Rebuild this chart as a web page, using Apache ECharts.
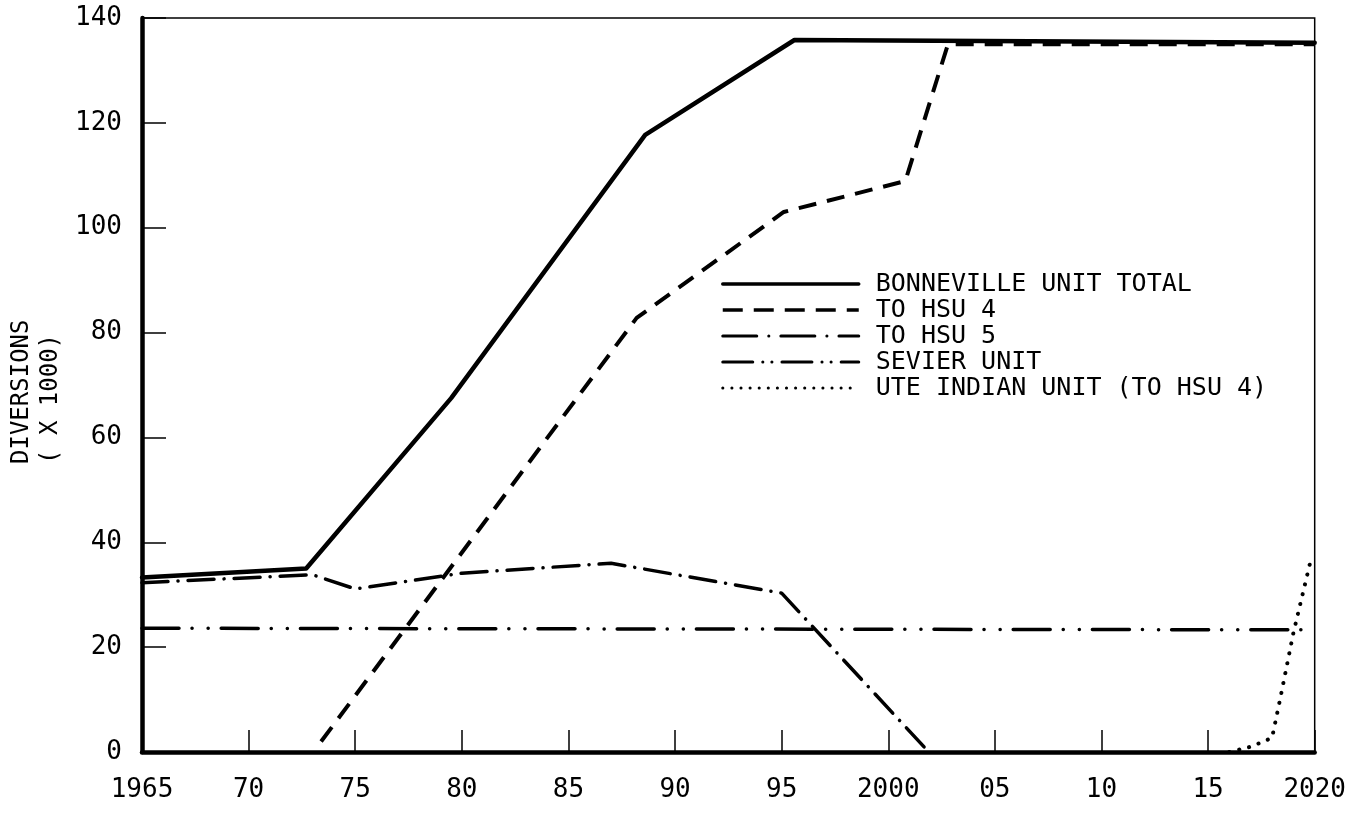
<!DOCTYPE html>
<html>
<head>
<meta charset="utf-8">
<script src="https://cdn.jsdelivr.net/npm/echarts@6/dist/echarts.min.js"></script>
<style>
  html, body { margin: 0; padding: 0; background: #fff; }
  #chart { width: 1349px; height: 818px; }
</style>
</head>
<body>
<div id="chart"></div>
<script>
// tick labels
var xTickValues = [1965, 1970, 1975, 1980, 1985, 1990, 1995, 2000, 2005, 2010, 2015, 2020];
var xTickLabels = ['1965', '70', '75', '80', '85', '90', '95', '2000', '05', '10', '15', '2020'];

// series (year, diversions x 1000)
var bonnevilleYears  = [1965, 1972.7, 1979.5, 1988.6, 1995.6, 2020];
var bonnevilleValues = [33.3, 35.0, 67.5, 117.7, 135.8, 135.3];

var hsu4Years  = [1973.4, 1988.2, 1995.1, 2000.8, 2002.8, 2020];
var hsu4Values = [2.0, 82.8, 103.0, 108.9, 135.0, 135.0];

var hsu5Years  = [1965, 1973, 1975, 1980, 1987, 1995, 2001.9];
var hsu5Values = [32.3, 33.8, 31.1, 34.1, 36.0, 30.3, 0];

var sevierYears  = [1965, 2020];
var sevierValues = [23.6, 23.3];

var uteYears  = [2016, 2017, 2018, 2018.4, 2019, 2019.85];
var uteValues = [0, 1.0, 2.7, 10.5, 22.7, 37.2];

var legendNames = ['BONNEVILLE UNIT TOTAL', 'TO HSU 4', 'TO HSU 5', 'SEVIER UNIT', 'UTE INDIAN UNIT (TO HSU 4)'];

var FONT = '"DejaVu Sans Mono", "Liberation Mono", monospace';

function zip(xs, ys) {
    var out = [];
    for (var i = 0; i < xs.length; i++) out.push([xs[i], ys[i]]);
    return out;
}

var myChart = echarts.init(document.getElementById('chart'), null, { renderer: 'canvas' });

var option = {
    backgroundColor: '#fff',
    animation: false,
    grid: {
        left: 142, right: 33, top: 18, bottom: 66,
        show: true, borderColor: '#000', borderWidth: 1.5
    },
    legend: {
        orient: 'vertical',
        left: 716,
        top: 266,
        itemWidth: 136,
        itemHeight: 14,
        itemGap: 0,
        inactiveColor: '#000',
        itemStyle: { opacity: 0 },
        textStyle: {
            color: '#000', fontFamily: FONT, fontSize: 25,
            padding: [0, 0, 0, 12], lineHeight: 26
        },
        data: [
            { name: legendNames[0], lineStyle: { width: 3.5 } },
            { name: legendNames[1], lineStyle: { width: 3.5, type: [20, 11] } },
            { name: legendNames[2], lineStyle: { width: 3, type: [34, 12, 0.1, 12], cap: 'round' } },
            { name: legendNames[3], lineStyle: { width: 3, type: [30, 10, 0.1, 9, 0.1, 10], cap: 'round' } },
            { name: legendNames[4], lineStyle: { width: 3, type: [0.1, 9], cap: 'round' } }
        ]
    },
    graphic: [
        {
            type: 'text', x: 22, y: 464, rotation: Math.PI / 2,
            style: { text: 'DIVERSIONS', fill: '#000', font: '24px ' + FONT, align: 'left', verticalAlign: 'middle' }
        },
        {
            type: 'text', x: 51, y: 464, rotation: Math.PI / 2,
            style: { text: '( X 1000)', fill: '#000', font: '24px ' + FONT, align: 'left', verticalAlign: 'middle' }
        }
    ],
    xAxis: {
        type: 'value',
        min: 1965, max: 2020, interval: 5,
        splitLine: { show: false },
        axisLine: { onZero: false, lineStyle: { color: '#000', width: 4.5 } },
        axisTick: {
            inside: true, length: 22, lineStyle: { color: '#000', width: 1.5 }
        },
        axisLabel: {
            color: '#000', fontFamily: FONT, fontSize: 26, margin: 25,
            formatter: function (v) {
                var i = xTickValues.indexOf(v);
                return i >= 0 ? xTickLabels[i] : '';
            }
        }
    },
    yAxis: {
        type: 'value',
        min: 0, max: 140, interval: 20,
        splitLine: { show: false },
        axisLine: { lineStyle: { color: '#000', width: 4.5 } },
        axisTick: {
            inside: true, length: 24, lineStyle: { color: '#000', width: 1.5 }
        },
        axisLabel: {
            color: '#000', fontFamily: FONT, fontSize: 26, margin: 20
        }
    },
    series: [
        {
            name: legendNames[0], type: 'line', showSymbol: false, symbol: 'none',
            lineStyle: { color: '#000', width: 4.5, cap: 'round', join: 'round' },
            itemStyle: { color: '#000' },
            data: zip(bonnevilleYears, bonnevilleValues)
        },
        {
            name: legendNames[1], type: 'line', showSymbol: false, symbol: 'none',
            lineStyle: { color: '#000', width: 4, type: [18, 11], join: 'round' },
            itemStyle: { color: '#000' },
            data: zip(hsu4Years, hsu4Values)
        },
        {
            name: legendNames[2], type: 'line', showSymbol: false, symbol: 'none',
            lineStyle: { color: '#000', width: 3.5, type: [26, 10, 0.1, 10], cap: 'round', join: 'round' },
            itemStyle: { color: '#000' },
            data: zip(hsu5Years, hsu5Values)
        },
        {
            name: legendNames[3], type: 'line', showSymbol: false, symbol: 'none',
            lineStyle: { color: '#000', width: 3.5, type: [37, 13, 0.1, 16, 0.1, 13], cap: 'round' },
            itemStyle: { color: '#000' },
            data: zip(sevierYears, sevierValues)
        },
        {
            name: legendNames[4], type: 'line', showSymbol: false, symbol: 'none',
            lineStyle: { color: '#000', width: 4, type: [0.1, 10], cap: 'round' },
            itemStyle: { color: '#000' },
            data: zip(uteYears, uteValues)
        }
    ]
};

myChart.setOption(option);
</script>
</body>
</html>
